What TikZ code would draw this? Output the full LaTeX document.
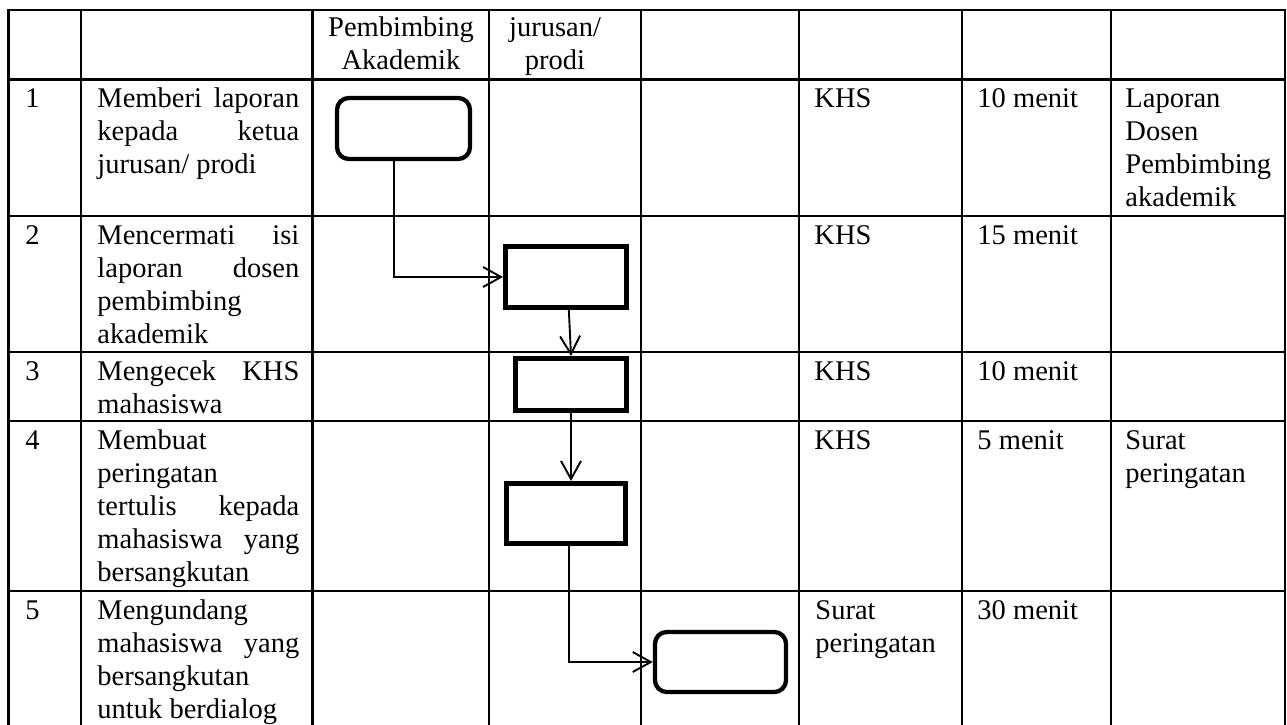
\documentclass[tikz,border=0pt]{standalone}
\usepackage{fontspec}
\setmainfont{Liberation Serif}
\usepackage{tikz}
\usetikzlibrary{arrows.meta}

\begin{document}
\begin{tikzpicture}[
  x=0.421pt, y=-0.421pt,
  tabline/.style={
    line width=0.85pt, line cap=rect
  },
  dep/.style ={
    -{Straight Barb[length=7.6pt,width=8.4pt]},line width=0.8pt
  },
  term/.style 2 args={
    rectangle,
    rounded corners=5pt,
    draw,
    line width=1.8pt,
    minimum width=#1,
    minimum height=#2,
    inner sep=0pt},
  act/.style 2 args={
    rectangle,
    draw,
    line width=2.1pt,
    minimum width=#1,
    minimum height=#2,
    inner sep=0pt},
  cell/.style={
    font=\fontsize{12}{13.9}\selectfont,
    inner sep=0pt,
    anchor=base west},
  task/.style={
    cell,
    text width=85pt,
    align=justify},
]

  \path[fill=white] (0,0) rectangle (1287,724);
  \useasboundingbox (0,0) rectangle (1287,724);

    % Table grid
  \foreach \y in {10,79.5,216,352,421,591} {
    \draw[tabline] (8.5,\y) -- (1285,\y);
  }
  \foreach \x in {8.5,81,312.5,489,641,799,962,1111,1285} {
    \draw[tabline] (\x,10) -- (\x,740);
  }

    % Header
  \node[cell,anchor=base,text width=80pt,align=center] (hdrpa) at (401,36) {Pembimbing\\Akademik};
  \node[cell,anchor=base,text width=60pt,align=center] (hdrjur) at (555,36) {jurusan/\\prodi};

    % Numbers, documents and times
  \foreach \n/\y/\t in {1/107.5/10,2/244/15,3/380/10,4/449/5,5/619/30} {
    \node[cell] (num\n) at (25,\y) {\n};
    \node[cell] (time\n) at (977,\y) {\t~menit};
   }
  \foreach \n/\y in {1/107.5,2/244,3/380,4/449} {
    \node[cell] (doc\n) at (814,\y) {KHS};
   }
  \node[cell,text width=62pt,align=left] (doc5) at (815,619) {Surat\\peringatan};

    % Activities
  \node[task] (task1) at (97,107.5) {Memberi laporan\linebreak kepada ketua\linebreak jurusan/ prodi};
  \node[task] (task2) at (97,244) {Mencermati isi\linebreak laporan dosen\linebreak pembimbing\linebreak akademik};
  \node[task] (task3) at (97,380) {Mengecek KHS\linebreak mahasiswa};
  \node[task] (task4) at (97,449) {Membuat\linebreak peringatan\linebreak tertulis kepada\linebreak mahasiswa yang\linebreak bersangkutan};
  \node[task] (task5) at (97,619) {Mengundang\linebreak mahasiswa yang\linebreak bersangkutan\linebreak untuk berdialog};

    % Outputs
  \node[cell,text width=64pt,align=left] (out1) at (1125,107.5) {Laporan\\Dosen\\Pembimbing\\akademik};
  \node[cell,text width=64pt,align=left] (out4) at (1125,449) {Surat\\peringatan};

    % Flow boxes
  \node[term={56pt}{25.7pt}] (box1) at (403.5,128.5) {};
  \node[act={50.9pt}{25.7pt}] (box2) at (566,277) {};
  \node[act={46.7pt}{21.9pt}] (box3) at (571,384.5) {};
  \node[act={50.1pt}{25.3pt}] (box4) at (566,513.5) {};
  \node[term={55.2pt}{25.3pt}] (box5) at (720.5,662) {};

  \draw[dep] ([xshift=-4pt]box1.south) |- (box2.west);
  \draw[dep] ([xshift=1.2pt]box2.south) -- (box3.north);
  \draw[dep] (box3.south) -- (box3.south |- box4.north);
  \draw[dep] ([xshift=1.2pt]box4.south) |- (box5.west);

\end{tikzpicture}
\end{document}
